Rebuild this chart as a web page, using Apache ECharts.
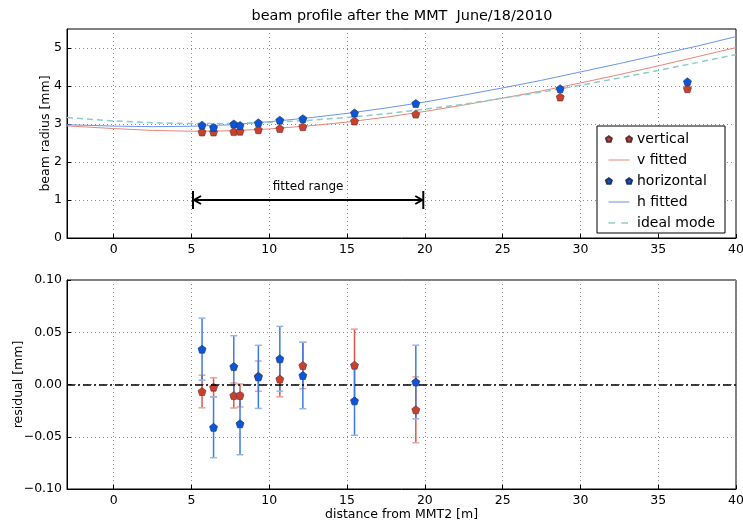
<!DOCTYPE html>
<html>
<head>
<meta charset="utf-8">
<script src="https://cdn.jsdelivr.net/npm/echarts@6/dist/echarts.min.js"></script>
<style>
html,body{margin:0;padding:0;background:#fff;}
#chart{width:743px;height:521px;}
</style>
</head>
<body>
<div id="chart"></div>
<script>
// ---------- data ----------
const titleText = 'beam profile after the MMT  June/18/2010';
const xTicks = [0, 5, 10, 15, 20, 25, 30, 35, 40];
const yTicksTop = [0, 1, 2, 3, 4, 5];
const yTicksBottom = [-0.1, -0.05, 0, 0.05, 0.1];
const yTickLabelsBottom = ['\u22120.10', '\u22120.05', '0.00', '0.05', '0.10'];

const positions = [5.68, 6.42, 7.72, 8.12, 9.30, 10.68, 12.16, 15.48, 19.42, 28.70, 36.88];
const vertical = [2.79, 2.79, 2.80, 2.81, 2.85, 2.88, 2.93, 3.08, 3.26, 3.71, 3.93];
const horizontal = [2.97, 2.91, 3.00, 2.96, 3.03, 3.10, 3.14, 3.29, 3.54, 3.93, 4.11];

const curveX = [-3, 0, 2.5, 5, 7.5, 10, 12.5, 15, 17.5, 20, 22.5, 25, 27.5, 30, 32.5, 35, 37.5, 40];
const vFitted = [2.95, 2.88, 2.83, 2.81, 2.82, 2.87, 2.95, 3.05, 3.18, 3.33, 3.50, 3.68, 3.87, 4.08, 4.30, 4.53, 4.77, 5.01];
const hFitted = [2.98, 2.945, 2.93, 2.94, 2.98, 3.06, 3.16, 3.28, 3.42, 3.58, 3.76, 3.95, 4.15, 4.37, 4.59, 4.82, 5.05, 5.30];
const idealMode = [3.17, 3.08, 3.035, 3.01, 3.015, 3.04, 3.095, 3.17, 3.27, 3.39, 3.52, 3.68, 3.84, 4.02, 4.21, 4.41, 4.615, 4.83];

const fittedRange = [5.1, 19.9];
const fittedRangeY = [1];
const fittedRangeLabel = ['fitted range'];

const residualPositions = [5.68, 6.42, 7.72, 8.12, 9.30, 10.68, 12.16, 15.48, 19.42];
const residualV = [-0.0067, -0.0026, -0.0105, -0.0105, 0.0080, 0.0052, 0.0182, 0.0185, -0.0242];
const errorV = [0.0156, 0.0090, 0.0120, 0.0110, 0.0145, 0.0170, 0.0222, 0.0345, 0.0315];
const residualH = [0.0338, -0.0410, 0.0172, -0.0376, 0.0073, 0.0246, 0.0086, -0.0156, 0.0024];
const errorH = [0.0297, 0.0290, 0.0295, 0.0296, 0.0302, 0.0310, 0.0318, 0.0330, 0.0352];

// ---------- helpers ----------
const FONT = 'DejaVu Sans';
const zip = (a, b) => a.map((v, i) => [v, b[i]]);
const pent = 'path://M0,-1L0.951,-0.309L0.588,0.809L-0.588,0.809L-0.951,-0.309Z';
const twoPent = 'path://M3,0L5.85,2.07L4.76,5.43L1.24,5.43L0.15,2.07ZM23,0L25.85,2.07L24.76,5.43L21.24,5.43L20.15,2.07Z';
const solidIcon = 'path://M0,3L0.01,3L0.01,3.01ZM26,3L25.99,3L25.99,3.01ZM2.5,2.4L23.5,2.4L23.5,3.6L2.5,3.6Z';
const dashIcon = 'path://M0,3L0.01,3L0.01,3.01ZM26,3L25.99,3L25.99,3.01ZM2.5,2.25L9,2.25L9,3.75L2.5,3.75ZM15.5,2.25L22,2.25L22,3.75L15.5,3.75Z';
const RED = '#cc3f2b', BLUE = '#0a55dd';

function errRender(color, capColor) {
  return function (params, api) {
    const x = api.value(0), y = api.value(1), e = api.value(2);
    const t = api.coord([x, y + e]), b = api.coord([x, y - e]);
    const hw = 3.5;
    return {
      type: 'group',
      children: [
        {type: 'line', shape: {x1: t[0], y1: t[1], x2: b[0], y2: b[1]}, style: {stroke: color, lineWidth: 1.5}},
        {type: 'line', shape: {x1: t[0] - hw, y1: t[1], x2: t[0] + hw, y2: t[1]}, style: {stroke: capColor, lineWidth: 1.5}},
        {type: 'line', shape: {x1: b[0] - hw, y1: b[1], x2: b[0] + hw, y2: b[1]}, style: {stroke: capColor, lineWidth: 1.5}}
      ]
    };
  };
}

function rangeRender(params, api) {
  const a = api.coord([api.value(0), api.value(2)]);
  const b = api.coord([api.value(1), api.value(2)]);
  const h = 9, al = 8, aw = 4;
  const st = {stroke: '#000', lineWidth: 2, fill: null};
  return {
    type: 'group',
    children: [
      {type: 'line', shape: {x1: a[0], y1: a[1], x2: b[0], y2: b[1]}, style: st},
      {type: 'polyline', shape: {points: [[a[0] + al, a[1] - aw], [a[0] + 1, a[1]], [a[0] + al, a[1] + aw]]}, style: st},
      {type: 'polyline', shape: {points: [[b[0] - al, b[1] - aw], [b[0] - 1, b[1]], [b[0] - al, b[1] + aw]]}, style: st},
      {type: 'line', shape: {x1: a[0], y1: a[1] - h, x2: a[0], y2: a[1] + h}, style: st},
      {type: 'line', shape: {x1: b[0], y1: b[1] - h, x2: b[0], y2: b[1] + h}, style: st},
      {type: 'text', x: (a[0] + b[0]) / 2, y: a[1] - 13,
        style: {text: fittedRangeLabel[0], fontFamily: FONT, fontSize: 12, fill: '#000', textAlign: 'center', textVerticalAlign: 'middle'}}
    ]
  };
}

const gridLine = {show: true, lineStyle: {color: '#8a8a8a', type: [1, 3], width: 1}};
const labelStyle = {fontFamily: FONT, fontSize: 12.5, color: '#000'};

function xAxis(idx, showName) {
  return {
    type: 'value', gridIndex: idx, min: -3, max: 40,
    axisLine: {show: true, onZero: false, lineStyle: {color: '#000', width: 1}},
    axisTick: {show: true, inside: true, length: 4, customValues: xTicks, lineStyle: {color: '#000'}},
    axisLabel: Object.assign({margin: 5, customValues: xTicks}, labelStyle),
    splitLine: gridLine,
    name: showName ? 'distance from MMT2 [m]' : '',
    nameLocation: 'middle', nameGap: 19, nameMoveOverlap: false,
    nameTextStyle: {fontFamily: FONT, fontSize: 12.5, color: '#000'}
  };
}

const option = {
  animation: false,
  backgroundColor: '#fff',
  title: {
    text: titleText, left: 402, top: 9, textAlign: 'center', padding: 0,
    textStyle: {fontFamily: FONT, fontSize: 14.4, fontWeight: 'normal', color: '#000'}
  },
  grid: [
    {left: 67, right: 7, top: 29, height: 209, show: true, borderColor: '#000', borderWidth: 1, backgroundColor: 'transparent', containLabel: false, outerBoundsMode: 'none'},
    {left: 67, right: 7, top: 280, height: 209, show: true, borderColor: '#000', borderWidth: 1, backgroundColor: 'transparent', containLabel: false, outerBoundsMode: 'none'}
  ],
  xAxis: [xAxis(0, false), xAxis(1, true)],
  yAxis: [
    {
      type: 'value', gridIndex: 0, min: 0, max: 5.5,
      axisLine: {show: true, onZero: false, lineStyle: {color: '#000'}},
      axisTick: {show: true, inside: true, length: 4, customValues: yTicksTop, lineStyle: {color: '#000'}},
      axisLabel: Object.assign({margin: 5, customValues: yTicksTop}, labelStyle),
      splitLine: gridLine,
      name: 'beam radius [mm]', nameLocation: 'middle', nameGap: 15, nameMoveOverlap: false,
      nameTextStyle: {fontFamily: FONT, fontSize: 12.5, color: '#000'}
    },
    {
      type: 'value', gridIndex: 1, min: -0.1, max: 0.1,
      axisLine: {show: true, onZero: false, lineStyle: {color: '#000'}},
      axisTick: {show: true, inside: true, length: 4, customValues: yTicksBottom, lineStyle: {color: '#000'}},
      axisLabel: Object.assign({
        margin: 5, customValues: yTicksBottom,
        formatter: function (v) {
          let best = 0;
          yTicksBottom.forEach((t, i) => { if (Math.abs(t - v) < Math.abs(yTicksBottom[best] - v)) best = i; });
          return yTickLabelsBottom[best];
        }
      }, labelStyle),
      splitLine: gridLine,
      name: 'residual [mm]', nameLocation: 'middle', nameGap: 42, nameMoveOverlap: false,
      nameTextStyle: {fontFamily: FONT, fontSize: 12.5, color: '#000'}
    }
  ],
  legend: {
    orient: 'vertical', left: 597, top: 126,
    backgroundColor: '#fff', borderColor: '#000', borderWidth: 1, borderRadius: 0,
    padding: [5, 10, 2, 8], itemGap: 5, itemWidth: 26, itemHeight: 6, itemTextGap: 12,
    symbolKeepAspect: true,
    textStyle: {fontFamily: FONT, fontSize: 14, color: '#000', lineHeight: 16},
    data: [
      {name: 'vertical', icon: twoPent},
      {name: 'v fitted', icon: solidIcon},
      {name: 'horizontal', icon: twoPent},
      {name: 'h fitted', icon: solidIcon},
      {name: 'ideal mode', icon: dashIcon}
    ]
  },
  series: [
    {
      name: 'v fitted', type: 'line', xAxisIndex: 0, yAxisIndex: 0,
      data: zip(curveX, vFitted), smooth: false, symbol: 'none',
      lineStyle: {color: '#e9857a', width: 1}, itemStyle: {color: '#e9857a'}, z: 2
    },
    {
      name: 'h fitted', type: 'line', xAxisIndex: 0, yAxisIndex: 0,
      data: zip(curveX, hFitted), smooth: false, symbol: 'none',
      lineStyle: {color: '#6a95ee', width: 1}, itemStyle: {color: '#6a95ee'}, z: 2
    },
    {
      name: 'ideal mode', type: 'line', xAxisIndex: 0, yAxisIndex: 0,
      data: zip(curveX, idealMode), smooth: false, symbol: 'none',
      lineStyle: {color: '#8ccdc6', width: 1.5, type: [6, 4]}, itemStyle: {color: '#8ccdc6'}, z: 2
    },
    {
      name: 'vertical', type: 'scatter', xAxisIndex: 0, yAxisIndex: 0,
      data: zip(positions, vertical), symbol: pent, symbolSize: 8,
      itemStyle: {color: RED, borderColor: '#553333', borderWidth: 0.6, opacity: 1}, z: 4
    },
    {
      name: 'horizontal', type: 'scatter', xAxisIndex: 0, yAxisIndex: 0,
      data: zip(positions, horizontal), symbol: pent, symbolSize: 8,
      itemStyle: {color: BLUE, borderColor: '#223355', borderWidth: 0.6, opacity: 1}, z: 4
    },
    {
      name: 'range', type: 'custom', xAxisIndex: 0, yAxisIndex: 0,
      data: [[fittedRange[0], fittedRange[1], fittedRangeY[0]]],
      renderItem: rangeRender, silent: true, z: 5
    },
    // bottom
    {
      name: 'v err', type: 'custom', xAxisIndex: 1, yAxisIndex: 1,
      data: residualPositions.map((x, i) => [x, residualV[i], errorV[i]]),
      encode: {x: 0, y: 1}, renderItem: errRender('#d8594b', '#eba196'), z: 3, silent: true
    },
    {
      name: 'h err', type: 'custom', xAxisIndex: 1, yAxisIndex: 1,
      data: residualPositions.map((x, i) => [x, residualH[i], errorH[i]]),
      encode: {x: 0, y: 1}, renderItem: errRender('#3d7be3', '#93b6f2'), z: 3, silent: true
    },
    {
      name: 'v residual', type: 'scatter', xAxisIndex: 1, yAxisIndex: 1,
      data: zip(residualPositions, residualV), symbol: pent, symbolSize: 8,
      itemStyle: {color: RED, borderColor: '#553333', borderWidth: 0.6, opacity: 1}, z: 4,
      markLine: {
        silent: true, symbol: 'none', label: {show: false},
        lineStyle: {color: '#000', width: 1.5, type: [8, 3, 2, 3]},
        data: [{yAxis: 0}]
      }
    },
    {
      name: 'h residual', type: 'scatter', xAxisIndex: 1, yAxisIndex: 1,
      data: zip(residualPositions, residualH), symbol: pent, symbolSize: 8,
      itemStyle: {color: BLUE, borderColor: '#223355', borderWidth: 0.6, opacity: 1}, z: 5
    }
  ]
};

const chart = echarts.init(document.getElementById('chart'), null, {renderer: 'canvas'});
chart.setOption(option);
</script>
</body>
</html>
